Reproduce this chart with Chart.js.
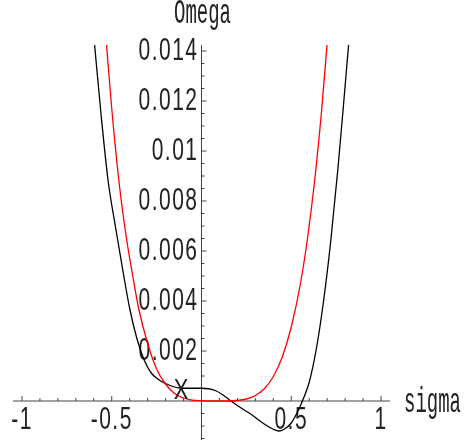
<!DOCTYPE html>
<html>
<head>
<meta charset="utf-8">
<script src="https://cdn.jsdelivr.net/npm/chart.js@4.4.1/dist/chart.umd.min.js"></script>
<style>
  html, body { margin: 0; padding: 0; background: #fff; }
  #wrap { width: 464px; height: 444px; }
</style>
</head>
<body>
<div id="wrap"><canvas id="chartOmega"></canvas></div>
<script>
// values
const sigmaBlack = [-0.60, -0.56, -0.52, -0.48, -0.44, -0.40, -0.36, -0.32, -0.28, -0.24, -0.20, -0.16, -0.12, -0.08, -0.04, 0.00, 0.04, 0.08, 0.12, 0.16, 0.20, 0.24, 0.28, 0.32, 0.36, 0.40, 0.43, 0.46, 0.50, 0.54, 0.57, 0.60, 0.64, 0.68, 0.72, 0.76, 0.80, 0.84];
const omegaBlack = [0.0146, 0.0115, 0.0088, 0.0070, 0.0053, 0.0037, 0.0025, 0.00165, 0.00112, 0.00086, 0.00070, 0.00058, 0.00052, 0.00051, 0.00051, 0.00051, 0.00049, 0.00041, 0.00024, 0.00002, -0.00018, -0.00037, -0.00055, -0.00077, -0.00097, -0.00113, -0.00120, -0.00113, -0.00088, -0.00036, 0.00014, 0.00075, 0.0021, 0.0040, 0.0064, 0.0093, 0.0126, 0.0160];

const sigmaRed = [-0.56, -0.53, -0.50, -0.46, -0.42, -0.39, -0.35, -0.30, -0.25, -0.20, -0.15, -0.10, -0.05, 0.00, 0.05, 0.10, 0.15, 0.20, 0.25, 0.30, 0.35, 0.40, 0.45, 0.50, 0.55, 0.59, 0.63, 0.67, 0.70, 0.73];
const omegaRed = [0.0173, 0.0143, 0.0117, 0.0088, 0.0066, 0.0053, 0.0037, 0.0023, 0.00128, 0.00067, 0.00030, 0.00012, 0.00003, 0.00001, 0, 0, 0, 0.00002, 0.00008, 0.00022, 0.00049, 0.00098, 0.00176, 0.00296, 0.00465, 0.00648, 0.0088, 0.0117, 0.0143, 0.0173];

const xTickValues = [-1, -0.5, 0.5, 1];
const xTickLabels = ['-1', '-0.5', '0.5', '1'];
const yTickValues = [0.002, 0.004, 0.006, 0.008, 0.01, 0.012, 0.014];
const yTickLabels = ['0.002', '0.004', '0.006', '0.008', '0.01', '0.012', '0.014'];

const markerPoint = [-0.114, 0.00048];
const markerLabel = 'X';
const xTitle = 'sigma';
const yTitle = 'Omega';

const NUM_FONT = '21px "Liberation Sans", Arial, sans-serif';
const TXT_FONT = '19px "Liberation Mono", "Courier New", monospace';

function toPoints(xs, ys) {
  return xs.map((x, i) => ({ x: x, y: ys[i] }));
}

// tall narrow text like the original labels
function drawText(ctx, text, x, y, align, stretch, spacing) {
  ctx.save();
  ctx.letterSpacing = (spacing || 0) + 'px';
  ctx.translate(x, y);
  ctx.scale(1, stretch);
  ctx.textAlign = align;
  ctx.textBaseline = 'middle';
  ctx.fillText(text, 0, 0);
  ctx.restore();
}

const axesPlugin = {
  id: 'crossAxes',
  beforeDatasetsDraw(chart) {
    const ctx = chart.ctx;
    const xs = chart.scales.x;
    const ys = chart.scales.y;
    const area = chart.chartArea;
    const x0 = xs.getPixelForValue(0);
    const y0 = ys.getPixelForValue(0);

    ctx.save();
    ctx.strokeStyle = '#444';
    ctx.lineWidth = 1;

    ctx.beginPath();
    ctx.moveTo(area.left, y0);
    ctx.lineTo(area.right, y0);
    ctx.moveTo(x0, area.top);
    ctx.lineTo(x0, area.bottom);
    ctx.stroke();

    // x ticks every 0.1, pointing up
    ctx.beginPath();
    for (let i = -10; i <= 10; i++) {
      if (i === 0) continue;
      const px = xs.getPixelForValue(i / 10);
      const len = i % 5 === 0 ? 5 : 3;
      ctx.moveTo(px, y0);
      ctx.lineTo(px, y0 - len);
    }
    // y ticks every 0.0005, pointing right
    for (let i = -3; i <= 28; i++) {
      if (i === 0) continue;
      const py = ys.getPixelForValue(i * 0.0005);
      const len = i % 4 === 0 ? 5 : 3;
      ctx.moveTo(x0, py);
      ctx.lineTo(x0 + len, py);
    }
    ctx.stroke();

    ctx.fillStyle = '#222';
    ctx.font = NUM_FONT;
    xTickValues.forEach((v, i) => {
      drawText(ctx, xTickLabels[i], xs.getPixelForValue(v), y0 + 20, 'center', 1.45, 1.5);
    });
    yTickValues.forEach((v, i) => {
      drawText(ctx, yTickLabels[i], x0 - 3, ys.getPixelForValue(v) + 1, 'right', 1.45, 1.5);
    });
    ctx.font = TXT_FONT;
    drawText(ctx, xTitle, area.right + 14, y0 + 2, 'left', 1.8, 0);
    drawText(ctx, yTitle, x0 + 1, area.top - 31, 'center', 1.8, 0);
    ctx.restore();
  },
  afterDatasetsDraw(chart) {
    const ctx = chart.ctx;
    const px = chart.scales.x.getPixelForValue(markerPoint[0]);
    const py = chart.scales.y.getPixelForValue(markerPoint[1]);
    ctx.save();
    ctx.fillStyle = '#222';
    ctx.font = '22px "Liberation Sans", Arial, sans-serif';
    drawText(ctx, markerLabel, px, py + 2, 'center', 1.35, 0);
    ctx.restore();
  },
};

new Chart(document.getElementById('chartOmega'), {
  type: 'line',
  data: {
    datasets: [
      {
        data: toPoints(sigmaRed, omegaRed),
        borderColor: '#ff0000',
        borderWidth: 1.3,
        pointRadius: 0,
        cubicInterpolationMode: 'monotone',
      },
      {
        data: toPoints(sigmaBlack, omegaBlack),
        borderColor: '#000000',
        borderWidth: 1.3,
        pointRadius: 0,
        cubicInterpolationMode: 'monotone',
      },
    ],
  },
  options: {
    responsive: true,
    maintainAspectRatio: false,
    animation: false,
    layout: { padding: { left: 13, right: 74, top: 45, bottom: 4 } },
    plugins: {
      legend: { display: false },
      tooltip: { enabled: false },
    },
    scales: {
      x: { type: 'linear', min: -1.05, max: 1.05, display: false },
      y: { type: 'linear', min: -0.00156, max: 0.01424, display: false },
    },
  },
  plugins: [axesPlugin],
});
</script>
</body>
</html>
